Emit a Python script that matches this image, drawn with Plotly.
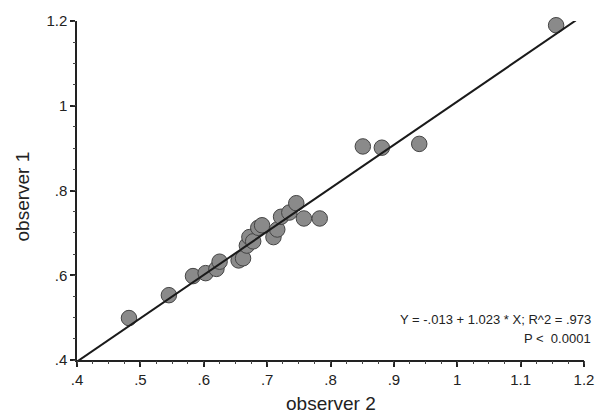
import plotly.graph_objects as go

observer2 = [0.482, 0.545, 0.583, 0.603, 0.620, 0.625, 0.655, 0.662, 0.668, 0.672, 0.678,
             0.686, 0.692, 0.710, 0.716, 0.722, 0.735, 0.746, 0.758, 0.783,
             0.851, 0.881, 0.940, 1.156]
observer1 = [0.499, 0.553, 0.598, 0.605, 0.615, 0.632, 0.635, 0.640, 0.670, 0.690, 0.680,
             0.712, 0.718, 0.690, 0.708, 0.738, 0.748, 0.770, 0.734, 0.734,
             0.904, 0.901, 0.910, 1.190]

intercept = -0.013
slope = 1.023
fit_x = [0.4, 1.187]
fit_y = [intercept + slope * v for v in fit_x]

x_tickvals = [0.4, 0.5, 0.6, 0.7, 0.8, 0.9, 1.0, 1.1, 1.2]
x_ticktext = [".4", ".5", ".6", ".7", ".8", ".9", "1", "1.1", "1.2"]
y_tickvals = [0.4, 0.6, 0.8, 1.0, 1.2]
y_ticktext = [".4", ".6", ".8", "1", "1.2"]

fig = go.Figure()
# invisible helper trace on the minor-tick axes
fig.add_trace(go.Scatter(x=[0.4], y=[0.4], mode="markers", marker=dict(opacity=0),
                         xaxis="x2", yaxis="y2", showlegend=False, hoverinfo="skip"))
fig.add_trace(go.Scatter(x=observer2, y=observer1, mode="markers",
                         marker=dict(size=15.5, color="#8a8a8a",
                                     line=dict(color="#444444", width=1)),
                         cliponaxis=False, showlegend=False))
fig.add_trace(go.Scatter(x=fit_x, y=fit_y, mode="lines",
                         line=dict(color="#1a1a1a", width=2),
                         cliponaxis=False, showlegend=False))

axis_common = dict(showline=True, linecolor="#222", linewidth=1.5, ticks="outside",
                   ticklen=5, tickwidth=1.5, tickcolor="#222", showgrid=False,
                   zeroline=False, tickfont=dict(size=15, color="#222"))

fig.update_layout(
    xaxis=dict(range=[0.4, 1.2], tickmode="array", tickvals=x_tickvals, ticktext=x_ticktext,
               **axis_common),
    yaxis=dict(range=[0.4, 1.2], tickmode="array", tickvals=y_tickvals, ticktext=y_ticktext,
               **axis_common),
    xaxis2=dict(range=[0.4, 1.2], overlaying="x", anchor="y", side="bottom",
                tickmode="linear", tick0=0.4, dtick=0.025, ticks="outside", ticklen=3,
                tickwidth=1, tickcolor="#444", showticklabels=False, showgrid=False,
                zeroline=False, showline=False),
    yaxis2=dict(range=[0.4, 1.2], overlaying="y", anchor="x", side="left",
                tickmode="linear", tick0=0.4, dtick=0.05, ticks="outside", ticklen=3,
                tickwidth=1, tickcolor="#444", showticklabels=False, showgrid=False,
                zeroline=False, showline=False),
)

fig.add_annotation(xref="paper", yref="paper", x=0.5, y=0, yshift=-43,
                   xanchor="center", yanchor="middle", text="observer 2", showarrow=False,
                   font=dict(size=19, color="#222"))
fig.add_annotation(xref="paper", yref="paper", x=0, y=0.5, xshift=-55, yshift=-6,
                   xanchor="center", yanchor="middle", text="observer 1", showarrow=False,
                   textangle=-90, font=dict(size=19, color="#222"))

fig.add_annotation(xref="paper", yref="paper", x=1.0, y=0.12, xshift=9,
                   xanchor="right", yanchor="middle",
                   text="Y = -.013 + 1.023 * X; R^2 = .973", showarrow=False,
                   font=dict(size=13, color="#222"))
fig.add_annotation(xref="paper", yref="paper", x=1.0, y=0.062, xshift=9,
                   xanchor="right", yanchor="middle",
                   text="P <  0.0001", showarrow=False,
                   font=dict(size=13, color="#222"))

fig.update_layout(width=606, height=418, margin=dict(l=77, r=15, t=20, b=58),
                  paper_bgcolor="white", plot_bgcolor="white",
                  font=dict(family="Liberation Sans, Arial, sans-serif", color="#222"))

fig.write_html("out.html")
